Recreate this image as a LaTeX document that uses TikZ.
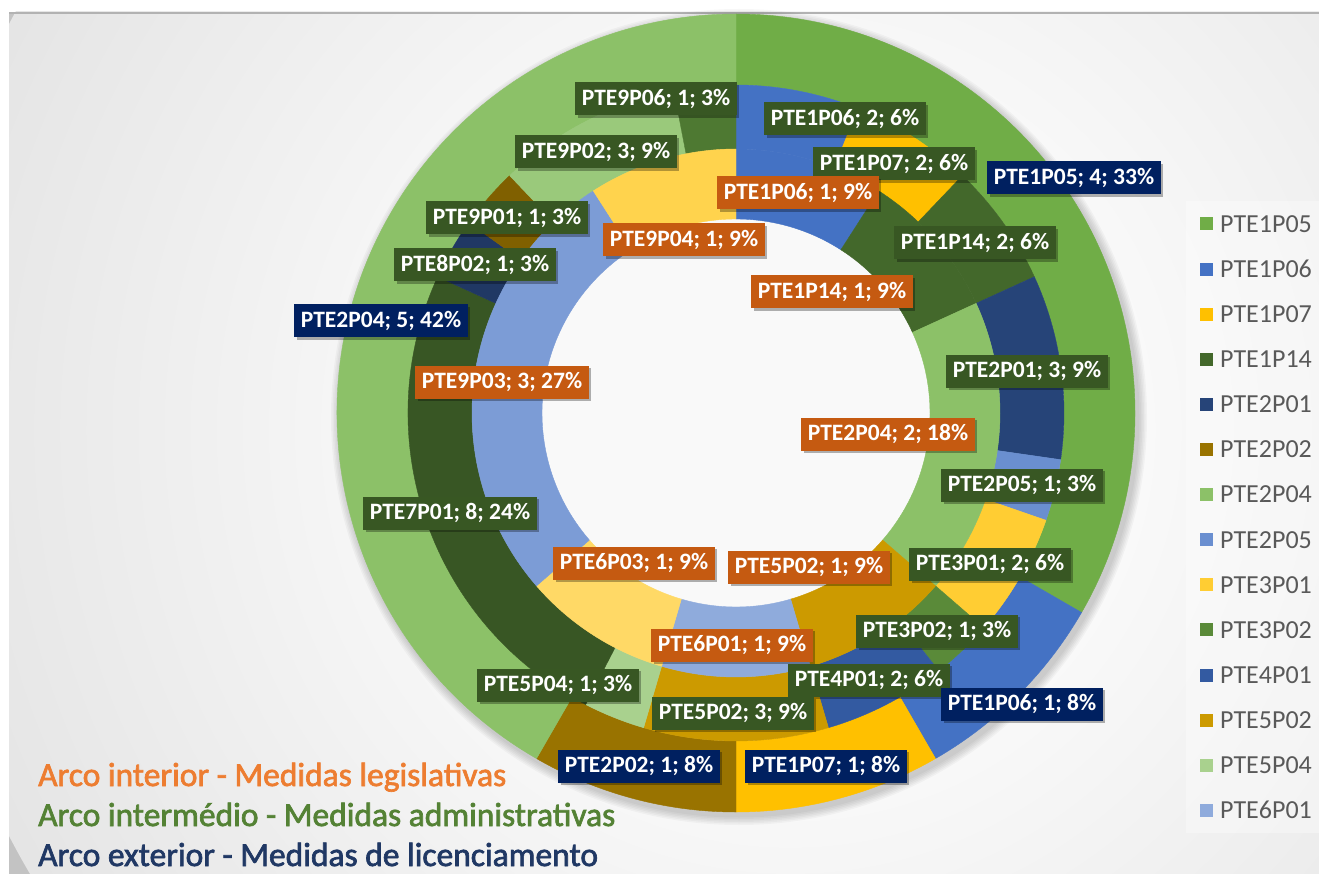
\documentclass[tikz,border=0pt]{standalone}
\usepackage{fontspec}
\setmainfont{Carlito}
\newfontfamily\ttff{Carlito}[FakeBold=2]
\usetikzlibrary{calc,shadows}
% category colours (Excel colourful palette variations)
\definecolor{cPTE1P05}{HTML}{70AD47}
\definecolor{cPTE1P06}{HTML}{4472C4}
\definecolor{cPTE1P07}{HTML}{FFC000}
\definecolor{cPTE1P14}{HTML}{43682B}
\definecolor{cPTE2P01}{HTML}{264478}
\definecolor{cPTE2P02}{HTML}{997300}
\definecolor{cPTE2P04}{HTML}{8CC168}
\definecolor{cPTE2P05}{HTML}{6A8FD0}
\definecolor{cPTE3P01}{HTML}{FFCD33}
\definecolor{cPTE3P02}{HTML}{5A8A39}
\definecolor{cPTE4P01}{HTML}{335AA1}
\definecolor{cPTE5P02}{HTML}{CC9A00}
\definecolor{cPTE5P04}{HTML}{A9D18E}
\definecolor{cPTE6P01}{HTML}{8FABDC}
\definecolor{cPTE6P03}{HTML}{FFD966}
\definecolor{cPTE7P01}{HTML}{385624}
\definecolor{cPTE8P02}{HTML}{203864}
\definecolor{cPTE9P01}{HTML}{806000}
\definecolor{cPTE9P02}{HTML}{9AC97B}
\definecolor{cPTE9P03}{HTML}{7C9CD6}
\definecolor{cPTE9P04}{HTML}{FFD34D}
\definecolor{cPTE9P06}{HTML}{4E7932}
\definecolor{labgreen}{HTML}{385723}
\definecolor{laborange}{HTML}{C55A11}
\definecolor{labnavy}{HTML}{002060}
\definecolor{ttorange}{HTML}{ED7D31}
\definecolor{ttgreen}{HTML}{548235}
\definecolor{ttnavy}{HTML}{203864}
\definecolor{legtext}{HTML}{595959}
\definecolor{bgin}{HTML}{F9F9F9}
\definecolor{bgout}{HTML}{C3C3C3}
\pgfdeclareradialshading{bgshade}{\pgfpoint{0bp}{0bp}}{color(0bp)=(bgin); color(10bp)=(bgin); color(50bp)=(bgout)}
\newcommand\donutseg[5]{\path[fill=#1, draw=#1, line width=0.4pt] ($(C)+({90-(#2)}:#5pt)$) arc[start angle={90-(#2)}, end angle={90-(#3)}, radius=#5pt] -- ($(C)+({90-(#3)}:#4pt)$) arc[start angle={90-(#3)}, end angle={90-(#2)}, radius=#4pt] -- cycle;}
\newcommand\outseg[3]{\donutseg{#1}{#2*30}{#3*30}{328}{399}}
\newcommand\midseg[3]{\donutseg{#1}{#2*360/33}{#3*360/33}{264}{328}}
\newcommand\innseg[3]{\donutseg{#1}{#2*360/11}{#3*360/11}{194}{264}}
\newcommand\labfont{\bfseries\fontsize{23.5}{28}\selectfont}
\newcommand\legfont{\fontsize{26}{30}\selectfont}
\newcommand\ttfont{\ttff\fontsize{33.5}{40}\selectfont}
\tikzset{
  lab/.style={font=\labfont, text=white, inner xsep=6.5pt, inner ysep=0pt, minimum height=33pt,
    drop shadow={shadow xshift=2.5pt, shadow yshift=-2.5pt, opacity=0.3, fill=black}},
  glab/.style={lab, fill=labgreen},
  olab/.style={lab, fill=laborange},
  nlab/.style={lab, fill=labnavy},
  legentry/.style={font=\legfont, text=legtext, inner sep=0pt, anchor=west},
  title/.style={font=\ttfont, inner sep=0pt, anchor=base west}
}
\begin{document}
\begin{tikzpicture}[x=1pt,y=1pt]
\useasboundingbox (0,0) rectangle (1319,-874);
\fill[white] (0,0) rectangle (1319,-874);
% chart area background
\begin{scope}
  \clip (9,-12) rectangle (1319,-874);
  \fill[bgout] (9,-12) rectangle (1319,-874);
  \shade[shading=bgshade] (790,-430) circle[radius=880pt];
  \fill[white, opacity=0.35] (1186,-201) rectangle (1319,-833);
\end{scope}
\draw[line width=2pt, color=black!30] (9,-13) -- (1319,-13);
\coordinate (C) at (736,-413);
% soft shadow of the donut
\foreach \i in {1,...,6}{
  \fill[black, opacity=0.03, even odd rule] ($(C)+(3,-4)$) circle[radius={399pt+\i*1.5pt}] ($(C)+(3,-4)$) circle[radius=330pt];
}
% outer ring: licenciamento
\outseg{cPTE1P05}{0}{4}
\outseg{cPTE1P06}{4}{5}
\outseg{cPTE1P07}{5}{6}
\outseg{cPTE2P02}{6}{7}
\outseg{cPTE2P04}{7}{12}
% middle ring: administrativas
\midseg{cPTE1P06}{0}{2}
\midseg{cPTE1P07}{2}{4}
\midseg{cPTE1P14}{4}{6}
\midseg{cPTE2P01}{6}{9}
\midseg{cPTE2P05}{9}{10}
\midseg{cPTE3P01}{10}{12}
\midseg{cPTE3P02}{12}{13}
\midseg{cPTE4P01}{13}{15}
\midseg{cPTE5P02}{15}{18}
\midseg{cPTE5P04}{18}{19}
\midseg{cPTE7P01}{19}{27}
\midseg{cPTE8P02}{27}{28}
\midseg{cPTE9P01}{28}{29}
\midseg{cPTE9P02}{29}{32}
\midseg{cPTE9P06}{32}{33}
% inner ring: legislativas
\innseg{cPTE1P06}{0}{1}
\innseg{cPTE1P14}{1}{2}
\innseg{cPTE2P04}{2}{4}
\innseg{cPTE5P02}{4}{5}
\innseg{cPTE6P01}{5}{6}
\innseg{cPTE6P03}{6}{7}
\innseg{cPTE9P03}{7}{10}
\innseg{cPTE9P04}{10}{11}
% middle ring labels
\node[glab] (l1) at (656,-99) {PTE9P06; 1; 3\%};
\node[glab] (l2) at (845,-119) {PTE1P06; 2; 6\%};
\node[glab] (l3) at (596,-152) {PTE9P02; 3; 9\%};
\node[glab] (l4) at (894,-164) {PTE1P07; 2; 6\%};
\node[glab] (l7) at (507,-218) {PTE9P01; 1; 3\%};
\node[glab] (l9) at (975,-243) {PTE1P14; 2; 6\%};
\node[glab] (l10) at (475,-265) {PTE8P02; 1; 3\%};
\node[glab] (l13) at (1027,-371) {PTE2P01; 3; 9\%};
\node[glab] (l16) at (1022,-485) {PTE2P05; 1; 3\%};
\node[glab] (l17) at (450,-513) {PTE7P01; 8; 24\%};
\node[glab] (l20) at (990,-564) {PTE3P01; 2; 6\%};
\node[glab] (l21) at (937,-631) {PTE3P02; 1; 3\%};
\node[glab] (l23) at (869,-680) {PTE4P01; 2; 6\%};
\node[glab] (l24) at (558,-685) {PTE5P04; 1; 3\%};
\node[glab] (l26) at (733,-713) {PTE5P02; 3; 9\%};
% inner ring labels
\node[olab] (l6) at (798,-193) {PTE1P06; 1; 9\%};
\node[olab] (l8) at (684,-240) {PTE9P04; 1; 9\%};
\node[olab] (l11) at (832,-292) {PTE1P14; 1; 9\%};
\node[olab] (l14) at (502,-382) {PTE9P03; 3; 27\%};
\node[olab] (l15) at (888,-434) {PTE2P04; 2; 18\%};
\node[olab] (l18) at (634,-563) {PTE6P03; 1; 9\%};
\node[olab] (l19) at (809,-567) {PTE5P02; 1; 9\%};
\node[olab] (l22) at (732,-645) {PTE6P01; 1; 9\%};
% outer ring labels
\node[nlab] (l5) at (1074,-178) {PTE1P05; 4; 33\%};
\node[nlab] (l12) at (381,-321) {PTE2P04; 5; 42\%};
\node[nlab] (l25) at (1022,-704) {PTE1P06; 1; 8\%};
\node[nlab] (l27) at (639,-766) {PTE2P02; 1; 8\%};
\node[nlab] (l28) at (826,-766) {PTE1P07; 1; 8\%};
% legend
\foreach \n [count=\i from 0] in {PTE1P05,PTE1P06,PTE1P07,PTE1P14,PTE2P01,PTE2P02,PTE2P04,PTE2P05,PTE3P01,PTE3P02,PTE4P01,PTE5P02,PTE5P04,PTE6P01}{
  \fill[c\n] (1200,{-224-45.1*\i+6.5}) rectangle (1213,{-224-45.1*\i-6.5});
  \node[legentry] (leg\i) at (1220,{-224-45.1*\i}) {\n};
}
% titles
\node[title, text=ttorange] (t1) at (38,-786) {Arco interior - Medidas legislativas};
\node[title, text=ttgreen] (t2) at (38,-826) {Arco intermédio - Medidas administrativas};
\node[title, text=ttnavy] (t3) at (38,-866) {Arco exterior - Medidas de licenciamento};
\end{tikzpicture}
\end{document}
